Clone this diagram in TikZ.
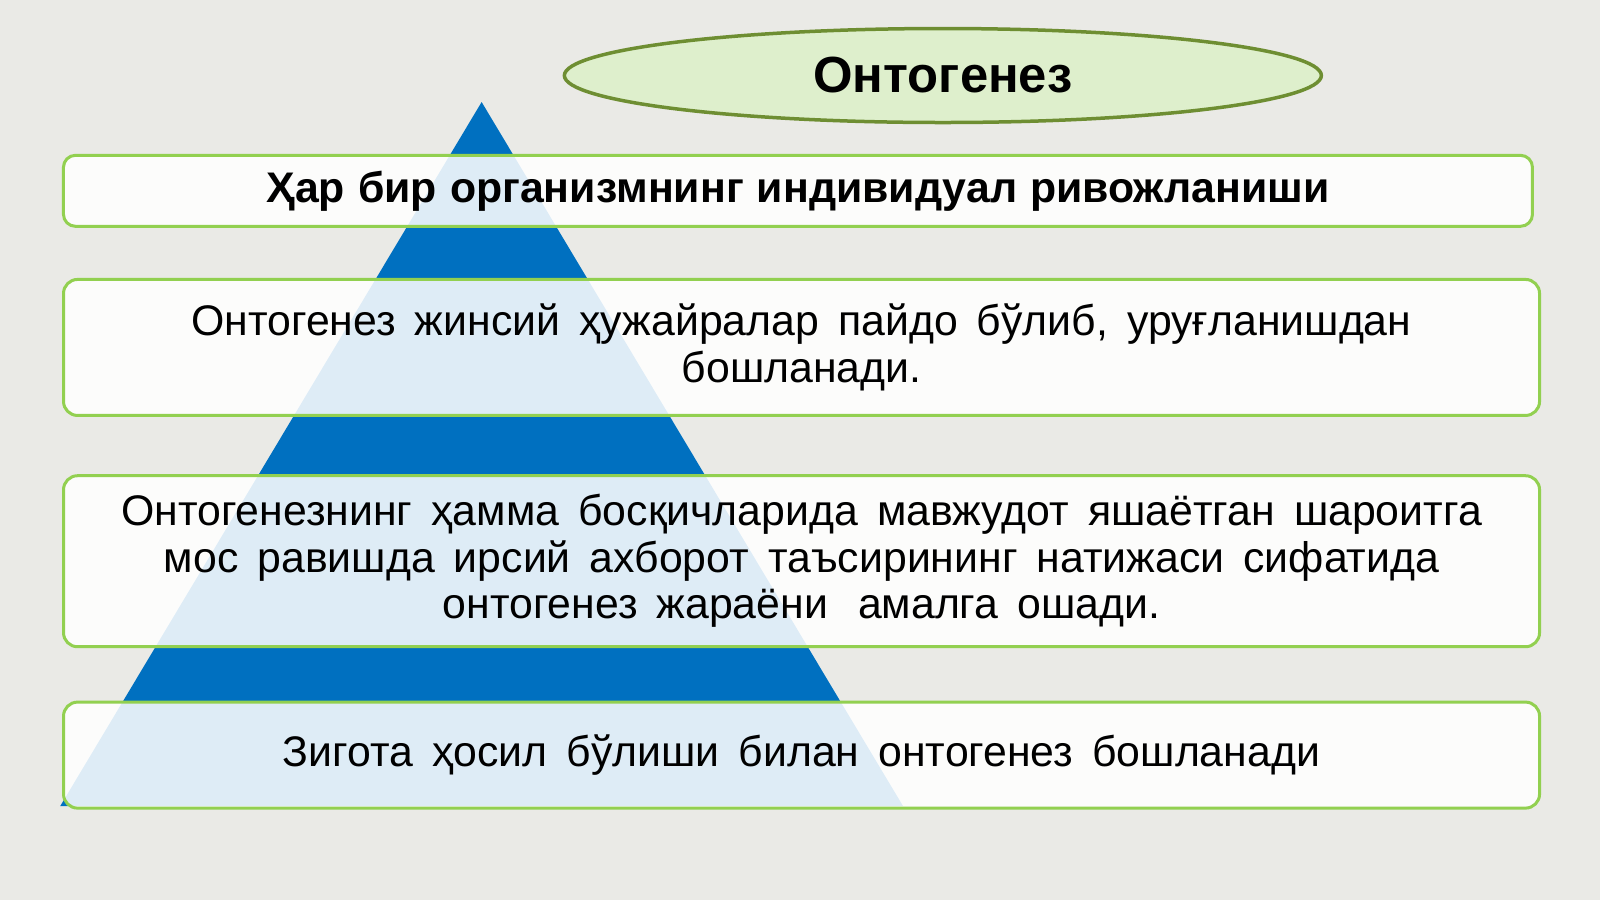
\documentclass[tikz,border=0pt]{standalone}
\usepackage{fontspec}
\setmainfont{Liberation Sans}
\usetikzlibrary{shapes.geometric}
\definecolor{bgc}{RGB}{234,234,230}
\definecolor{pyr}{RGB}{0,112,192}
\definecolor{boxline}{RGB}{146,208,80}
\definecolor{ellfill}{RGB}{222,239,204}
\definecolor{ellline}{RGB}{110,142,50}
\newcommand{\widesp}{\spaceskip=19pt\relax}
\newcommand{\boldsp}{\spaceskip=13pt\relax}
\tikzset{
  x=1.020408pt,y=-1.020408pt,
  stagebox/.style={draw=boxline, line width=3pt, rounded corners=14pt, fill=white, fill opacity=0.87, text opacity=1, align=center, inner sep=0pt, font=\fontsize{42.8pt}{46.5pt}\selectfont},
  titleell/.style={ellipse, draw=ellline, line width=3.5pt, fill=ellfill, inner sep=0pt, minimum width=757pt, minimum height=94pt, font=\bfseries\fontsize{50.8pt}{56pt}\selectfont}
}
\begin{document}
\begin{tikzpicture}
\fill[bgc] (0,0) rectangle (1568,882);
\useasboundingbox (0,0) rectangle (1568,882);
\coordinate (apex) at (472,100);
\coordinate (bl) at (59,790);
\coordinate (br) at (885,790);
\fill[pyr] (apex) -- (br) -- (bl) -- cycle;
\node[titleell] (title) at (924,74) {Онтогенез};
\node[stagebox, minimum width=1469pt, minimum height=71pt, rounded corners=12pt, font=\bfseries\fontsize{42.8pt}{46.5pt}\selectfont] (b1) at (782,187) {\boldsp Ҳар бир организмнинг индивидуал ривожланиши};
\node[stagebox, minimum width=1476pt, minimum height=136pt] (b2) at (785.5,340.5) {\widesp Онтогенез жинсий ҳужайралар пайдо бўлиб, уруғланишдан\\\widesp бошланади.};
\node[stagebox, minimum width=1476pt, minimum height=171pt] (b3) at (785.5,550) {\widesp Онтогенезнинг ҳамма босқичларида мавжудот яшаётган шароитга\\\widesp мос равишда ирсий ахборот таъсирининг натижаси сифатида\\\widesp онтогенез жараёни\hspace{11pt} амалга ошади.};
\node[stagebox, minimum width=1476pt, minimum height=106pt] (b4) at (785.5,740) {\widesp Зигота ҳосил бўлиши билан онтогенез бошланади};
\end{tikzpicture}
\end{document}
